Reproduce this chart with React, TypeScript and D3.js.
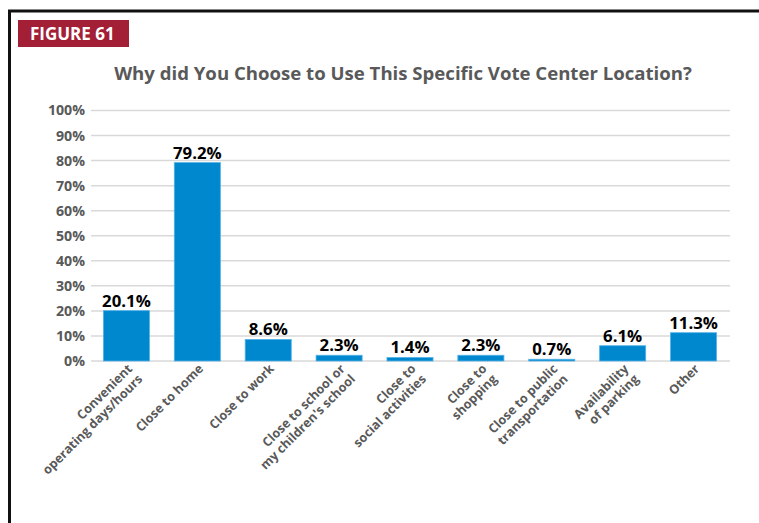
import React from "react";
import * as d3 from "d3";

const categories: string[][] = [
  ["Convenient", "operating days/hours"],
  ["Close to home"],
  ["Close to work"],
  ["Close to school or", "my children's school"],
  ["Close to", "social activities"],
  ["Close to", "shopping"],
  ["Close to public", "transportation"],
  ["Availability", "of parking"],
  ["Other"],
];
const values: number[] = [20.1, 79.2, 8.6, 2.3, 1.4, 2.3, 0.7, 6.1, 11.3];
const yTicks: number[] = [0, 10, 20, 30, 40, 50, 60, 70, 80, 90, 100];

const W = 759;
const H = 523;
const FONT = "'Open Sans', 'Noto Sans', sans-serif";

export default function App() {
  const x = d3
    .scaleBand<number>()
    .domain(values.map((_, i) => i))
    .range([91, 729])
    .paddingInner(0.35)
    .paddingOuter(0.175);
  const y = d3.scaleLinear().domain([0, 100]).range([361, 110.5]);

  return (
    <svg
      width={W}
      height={H}
      style={{ position: "absolute", left: 0, top: 0, background: "#fff" }}
    >
      {/* frame */}
      <path d={`M9.5,${H + 5} L9.5,11 L${W + 5},11`} fill="none" stroke="#111" strokeWidth={3} />
      {/* figure label */}
      <rect x={18} y={20} width={111} height={27} fill="#a31f36" />
      <text x={30} y={40} fill="#fff" fontFamily={FONT} fontWeight={700} fontSize={17}>
        FIGURE 61
      </text>
      {/* title */}
      <text
        x={403}
        y={80}
        textAnchor="middle"
        fill="#595959"
        fontFamily={FONT}
        fontWeight={700}
        fontSize={18.6}
      >
        Why did You Choose to Use This Specific Vote Center Location?
      </text>
      {/* gridlines and y ticks */}
      {yTicks.map((t) => (
        <g key={t}>
          <line x1={91} x2={730} y1={y(t)} y2={y(t)} stroke="#d9d9d9" strokeWidth={1.5} />
          <text
            x={85}
            y={y(t)}
            dy="0.35em"
            textAnchor="end"
            fill="#595959"
            fontFamily={FONT}
            fontWeight={700}
            fontSize={14.2}
          >
            {t}%
          </text>
        </g>
      ))}
      {/* bars */}
      {values.map((v, i) => (
        <g key={i}>
          <rect
            x={x(i)!}
            y={y(v)}
            width={x.bandwidth()}
            height={y(0) - y(v)}
            fill="#0088cf"
            stroke="#55b2e6"
            strokeWidth={0.8}
          />
          <text
            x={x(i)! + x.bandwidth() / 2}
            y={y(v) - 4}
            textAnchor="middle"
            fill="#000"
            fontFamily={FONT}
            fontWeight={700}
            fontSize={16.8}
          >
            {v.toFixed(1)}%
          </text>
        </g>
      ))}
      {/* category labels */}
      {categories.map((lines, i) => {
        const cx = x(i)! + x.bandwidth() / 2;
        return (
          <text
            key={i}
            transform={`translate(${cx - 1},${362}) rotate(-45)`}
            textAnchor="end"
            fill="#595959"
            fontFamily={FONT}
            fontWeight={700}
            fontSize={12.6}
          >
            {lines.map((l, j) => (
              <tspan key={j} x={0} dy={j === 0 ? "0.85em" : "1.15em"}>
                {l}
              </tspan>
            ))}
          </text>
        );
      })}
    </svg>
  );
}
